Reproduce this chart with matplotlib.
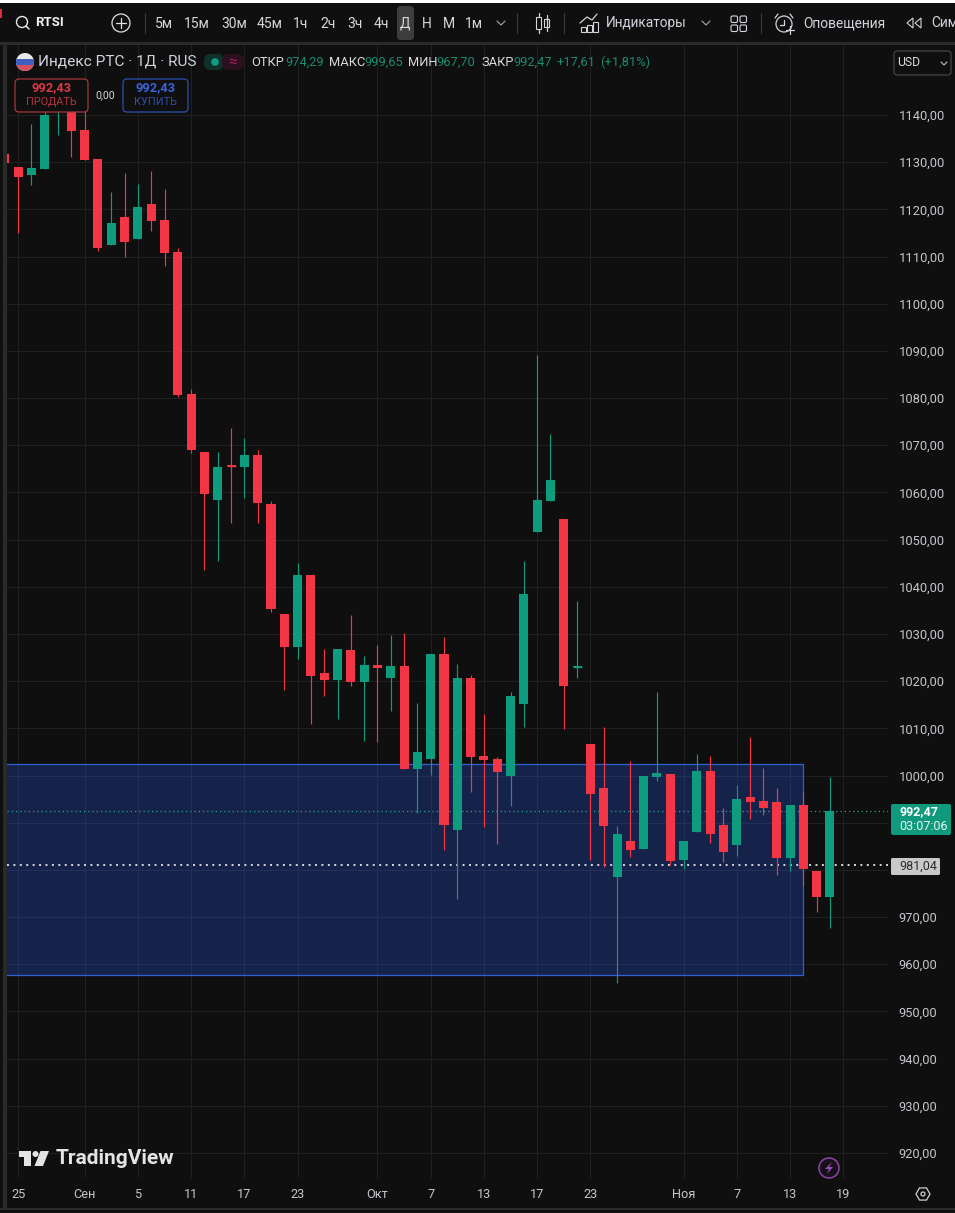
import math
import matplotlib
matplotlib.use('Agg')
import matplotlib.pyplot as plt
from matplotlib.patches import Circle, FancyBboxPatch, Polygon, Rectangle, RegularPolygon, Wedge

plt.rcParams['font.family'] = ['Roboto', 'DejaVu Sans']

# daily candles
opens = [1131.7, 1129.0, 1127.3, 1128.5, 1141.0, 1142.0, 1136.8, 1130.7, 1112.4,
         1118.4, 1113.7, 1121.1, 1117.8, 1110.9, 1080.9, 1068.6, 1058.4, 1065.8,
         1065.4, 1067.9, 1057.5, 1034.2, 1027.2, 1042.5, 1021.7, 1020.2, 1026.6,
         1019.8, 1023.4, 1020.7, 1023.2, 1001.4, 1003.5, 1025.8, 988.4, 1020.7,
         1004.1, 1003.5, 999.9, 1015.2, 1051.6, 1058.2, 1054.4, 1023.0, 1006.7,
         997.4, 978.5, 986.1, 984.4, 999.7, 1000.3, 982.1, 988.0, 1000.9, 989.5,
         985.3, 995.5, 994.6, 994.4, 982.5, 993.8, 979.8, 974.29]
highs = [1131.7, 1129.0, 1138.1, 1142.0, 1147.0, 1147.0, 1142.0, 1130.7, 1123.7,
         1127.7, 1125.4, 1128.1, 1124.3, 1111.8, 1081.9, 1068.6, 1068.6, 1073.7,
         1071.5, 1069.0, 1058.2, 1034.2, 1045.0, 1042.5, 1026.8, 1026.8, 1034.0,
         1025.3, 1027.7, 1029.8, 1030.2, 1015.4, 1025.8, 1029.4, 1023.6, 1021.3,
         1013.0, 1003.9, 1017.7, 1045.5, 1089.1, 1072.4, 1054.4, 1037.0, 1006.7,
         1010.3, 989.3, 1003.1, 999.9, 1017.7, 1000.3, 986.1, 1004.6, 1004.1, 993.1,
         998.0, 1008.2, 1001.6, 997.4, 993.8, 996.5, 979.8, 999.65]
lows = [1129.8, 1115.0, 1125.2, 1128.5, 1135.8, 1131.1, 1130.5, 1111.2, 1112.4,
        1109.9, 1113.7, 1115.4, 1108.0, 1080.2, 1068.4, 1043.6, 1045.5, 1053.5,
        1058.8, 1053.5, 1034.7, 1018.1, 1024.7, 1010.9, 1016.8, 1012.0, 1018.9,
        1007.3, 1007.1, 1013.7, 1001.4, 992.1, 1000.1, 984.2, 973.8, 996.5,
        989.1, 985.5, 993.5, 1010.3, 1051.6, 1058.2, 1009.9, 1020.7, 982.1,
        980.6, 956.0, 982.7, 984.4, 998.8, 981.0, 980.2, 988.0, 985.7, 981.7,
        982.9, 990.8, 991.6, 978.9, 979.8, 976.8, 971.1, 967.70]
closes = [1129.8, 1126.9, 1128.8, 1140.0, 1146.0, 1136.6, 1130.5, 1111.8, 1117.1,
          1113.1, 1120.5, 1117.5, 1110.7, 1080.6, 1069.0, 1059.7, 1065.4, 1065.6,
          1067.9, 1057.8, 1035.3, 1027.2, 1042.5, 1021.1, 1020.2, 1026.8, 1019.8,
          1023.4, 1022.8, 1023.2, 1001.4, 1005.0, 1025.8, 989.6, 1020.7, 1003.9,
          1003.3, 1000.7, 1016.8, 1038.5, 1058.4, 1062.6, 1018.9, 1023.2, 996.1,
          989.3, 987.6, 984.2, 999.9, 1000.5, 981.9, 986.1, 1000.9, 987.6, 983.8,
          995.0, 994.4, 993.1, 982.5, 993.8, 980.2, 974.3, 992.47]

date_idx = [1, 6, 10, 14, 18, 22, 28, 32, 36, 40, 44, 51, 55, 59, 63]
date_labels = ['25', 'Сен', '5', '11', '17', '23', 'Окт', '7', '13', '17', '23', 'Ноя', '7', '13', '19']
price_ticks = list(range(920, 1150, 10))
hidden_ticks = [980, 990]  # covered by the price tags

zone_low, zone_high = 957.72, 1002.44
zone_end = 60
last_price = 992.47
level_price = 981.04

BG = '#0f0f0f'
RED = '#f23645'
GREEN = '#0e9c7f'
GRID = '#202020'
TXT = '#c4c6cc'
W, H = 955, 1213

fig = plt.figure(figsize=(W / 100, H / 100), dpi=100, facecolor=BG)

# chart pane, placed in pixels
left, right, top, bottom = 7, 888, 44, 1178
ax = fig.add_axes([left / W, 1 - bottom / H, (right - left) / W, (bottom - top) / H], facecolor=BG)
ax.set_xlim(0.165, 66.36)
ax.set_ylim(914.69, 1155.05)
for s in ax.spines.values():
    s.set_visible(False)

ax.set_yticks(price_ticks)
ax.set_yticklabels(['' if p in hidden_ticks else f'{p},00' for p in price_ticks], fontsize=9.3, color=TXT)
ax.yaxis.tick_right()
ax.set_xticks(date_idx)
ax.set_xticklabels(date_labels, fontsize=9.2, color=TXT)
ax.tick_params(axis='y', length=0, pad=7.8)
ax.tick_params(axis='x', length=0, pad=7.5)
ax.grid(True, color=GRID, lw=0.8, zorder=0)
ax.set_axisbelow(True)

# blue zone
ax.add_patch(Rectangle((-5, zone_low), zone_end + 5, zone_high - zone_low,
                       facecolor='#2962ff', alpha=0.25, edgecolor='none', zorder=1))
ax.add_patch(Rectangle((-5, zone_low), zone_end + 5, zone_high - zone_low,
                       facecolor='none', edgecolor='#2f5fd0', lw=0.9, zorder=1.5))

ax.axhline(last_price, color='#2aa58c', lw=0.9, ls=(0, (1, 2.4)), zorder=1.6)
ax.axhline(level_price, color='#d6d8de', lw=1.4, ls=(0, (1, 2.3)), zorder=1.6)

# candles
for i, (o, h, l, c) in enumerate(zip(opens, highs, lows, closes)):
    col = GREEN if c >= o else RED
    ax.vlines(i, l, h, color=col, lw=0.85, zorder=3)
    ax.bar(i, abs(c - o), bottom=min(o, c), width=0.68, color=col, lw=0, zorder=3.5)
    if abs(c - o) < 0.6:
        ax.hlines((o + c) / 2, i - 0.34, i + 0.34, color=col, lw=0.9, zorder=3.5)

# everything around the chart, in pixel coordinates
ov = fig.add_axes([0, 0, 1, 1], facecolor='none', zorder=5)
ov.set_xlim(0, W)
ov.set_ylim(H, 0)
ov.axis('off')


def box(x0, y0, x1, y1, fc=BG, ec='none', lw=1, r=0, z=1):
    if r:
        p = FancyBboxPatch((x0 + r, y0 + r), x1 - x0 - 2 * r, y1 - y0 - 2 * r,
                           boxstyle=f'round,pad={r},rounding_size={r}', fc=fc, ec=ec, lw=lw, zorder=z)
    else:
        p = Rectangle((x0, y0), x1 - x0, y1 - y0, fc=fc, ec=ec, lw=lw, zorder=z)
    ov.add_patch(p)


def txt(x, y, s, size=9.5, color=TXT, ha='center', weight='normal'):
    ov.text(x, y, s, fontsize=size, color=color, ha=ha, va='center', weight=weight, zorder=6)


def line(xs, ys, color='#d1d4dc', lw=0.9):
    ov.plot(xs, ys, color=color, lw=lw, solid_capstyle='round', zorder=6)


# toolbar
box(0, 0, W, 3, fc='#ffffff')
box(0, 3, W, 42, fc=BG)
box(0, 42, W, 45, fc='#2a2a2a')
box(3, 45, 7, 1208, fc='#2a2a2a')
box(0, 1208, W, 1210, fc='#2a2a2a')
box(0, 9, 2, 18, fc='#e02a3a', z=2)

ov.add_patch(Circle((22, 22), 5.5, fc='none', ec='#e8e8e8', lw=1, zorder=6))
line([26, 29], [26, 29], '#e8e8e8', 1.1)
txt(35, 23, 'RTSI', 9.5, '#f0f0f0', 'left', 'bold')
ov.add_patch(Circle((121, 23), 9, fc='none', ec='#e0e0e0', lw=0.9, zorder=6))
line([116, 126], [23, 23], '#e0e0e0')
line([121, 121], [18, 28], '#e0e0e0')

box(397, 6, 414, 40, fc='#3d3d3d', r=4, z=2)
intervals = [(164, '5м'), (197, '15м'), (234, '30м'), (270, '45м'), (301, '1ч'), (328, '2ч'),
             (355, '3ч'), (381, '4ч'), (405, 'Д'), (427, 'Н'), (449, 'М'), (474, '1м')]
for x, s in intervals:
    txt(x, 24, s, 10, '#d8d8d8')
for x in [145, 517, 564, 761]:
    line([x, x], [13, 33], '#3a3a3a', 0.8)
for x in [501, 706]:
    line([x - 4, x, x + 4], [21, 25, 21], '#a8a8a8', 0.8)

# candle icon
box(536, 17, 541, 29, fc='none', ec='#d1d4dc', lw=0.8, z=6)
line([538.5, 538.5], [13, 17])
line([538.5, 538.5], [29, 33])
box(544, 19, 549, 27, fc='none', ec='#d1d4dc', lw=0.8, z=6)
line([546.5, 546.5], [15, 31])
# indicators icon
line([580, 587, 592, 597], [23, 17, 20, 14])
for x0, y0 in [(581, 27), (587, 25), (593, 22)]:
    box(x0, y0, x0 + 5, 32, fc='none', ec='#d1d4dc', lw=0.8, z=6)
txt(606, 23, 'Индикаторы', 9.8, '#d1d4dc', 'left')
# layouts icon
for x0 in [731, 740]:
    for y0 in [16, 25]:
        box(x0, y0, x0 + 6.5, y0 + 6.5, fc='none', ec='#d1d4dc', lw=0.8, r=1.5, z=6)
# alert icon
ov.add_patch(Circle((784, 24), 8, fc='none', ec='#d1d4dc', lw=0.9, zorder=6))
line([784, 784, 780], [20, 25, 25])
box(787, 26, 794, 34, fc=BG, z=5.5)
line([790, 790], [26, 34])
line([786, 794], [30, 30])
line([775, 778], [18, 14])
line([793, 790], [18, 14])
txt(803, 23, 'Оповещения', 9.9, '#d1d4dc', 'left')
ov.add_patch(Polygon([[913, 18], [907, 23], [913, 28]], fc='none', ec='#d1d4dc', lw=0.8, zorder=6))
ov.add_patch(Polygon([[921, 18], [915, 23], [921, 28]], fc='none', ec='#d1d4dc', lw=0.8, zorder=6))
txt(931, 23, 'Сим', 9.9, '#d1d4dc', 'left')

# legend row
ov.add_patch(Wedge((25, 62), 9, 0, 360, fc='#e8e8e8', ec='none', zorder=6))
c_clip = Circle((25, 62), 9, transform=ov.transData)
for y0, col in [(59, '#3f5fbe'), (65, '#d8505f')]:
    r_ = Rectangle((14, y0), 22, 6.5 if y0 == 59 else 8, fc=col, ec='none', zorder=6.1)
    ov.add_patch(r_)
    r_.set_clip_path(c_clip)
txt(38, 62, 'Индекс РТС · 1Д · RUS', 11.1, '#d1d4dc', 'left')
box(204, 54, 224, 70, fc='#10322c', r=7, z=2)
box(222, 54, 244, 70, fc='#2b1120', r=7, z=2)
ov.add_patch(Circle((215, 62), 3.8, fc='#0f9f80', ec='none', zorder=6))
txt(233, 62, '≈', 11, '#a82052')

LBL = '#d8dade'
VAL = '#1b8a6e'
for x, s, col in [(251, 'ОТКР', LBL), (285, '974,29', VAL), (329, 'МАКС', LBL), (364, '999,65', VAL),
                  (408, 'МИН', LBL), (436, '967,70', VAL), (481, 'ЗАКР', LBL), (513, '992,47', VAL),
                  (557, '+17,61', VAL), (600, '(+1,81%)', VAL)]:
    txt(x, 62, s, 9.3, col, 'left')

# buy / sell buttons
box(15, 79, 88, 112, fc=BG, ec='#a53640', lw=0.9, r=4, z=3)
txt(51.5, 88, '992,43', 9.3, '#d83a45', weight='bold')
txt(51.5, 102, 'ПРОДАТЬ', 7.8, '#b5343e')
txt(105, 95, '0,00', 7.6, '#d8d8d8')
box(123, 79, 188, 112, fc=BG, ec='#2a4fb0', lw=0.9, r=4, z=3)
txt(155.5, 88, '992,43', 9.3, '#3a62d8', weight='bold')
txt(155.5, 102, 'КУПИТЬ', 7.8, '#2f50a8')

# currency box
box(894, 51, 951, 75, fc=BG, ec='#444444', lw=0.9, r=3, z=3)
txt(897, 63, 'USD', 8.8, '#d8dade', 'left')
line([941, 944, 947], [62, 65, 62], '#c0c0c0', 0.8)

# price tags
box(891, 804, 951, 835, fc='#0f9a7d', r=2, z=3)
txt(899, 812, '992,47', 9.0, '#ffffff', 'left', 'bold')
txt(899, 826, '03:07:06', 9.0, '#e8f5f0', 'left')
box(891, 858, 940, 875, fc='#c9c9c9', r=1.5, z=3)
txt(899, 866, '981,04', 9.0, '#2a2a2a', 'left')

# TradingView logo
logo = '#e4e4e4'
ov.add_patch(Polygon([[19, 1151], [31, 1151], [31, 1166], [23.5, 1166], [23.5, 1157], [19, 1157]],
                     fc=logo, ec='none', zorder=6))
ov.add_patch(Circle((35.5, 1154), 3, fc=logo, ec='none', zorder=6))
ov.add_patch(Polygon([[40.5, 1151], [49, 1151], [43, 1166], [34.5, 1166]], fc=logo, ec='none', zorder=6))
txt(56, 1159, 'TradingView', 15, logo, 'left', 'bold')

# lightning badge
ov.add_patch(Circle((829, 1168), 10, fc='#17111b', ec='#8f45a8', lw=1.1, zorder=6))
ov.add_patch(Polygon([[832, 1162], [825, 1169], [829, 1169], [827, 1174], [833, 1167], [829, 1167]],
                     fc='#9a4cbc', ec='none', zorder=6.1))

# settings hexagon
ov.add_patch(RegularPolygon((923, 1194), 6, radius=7, orientation=math.pi / 2,
                            fc='none', ec='#d0d0d0', lw=0.9, zorder=6))
ov.add_patch(Circle((923, 1194), 2, fc='none', ec='#d0d0d0', lw=0.9, zorder=6))

fig.savefig('out.png', dpi=100, facecolor=BG)
